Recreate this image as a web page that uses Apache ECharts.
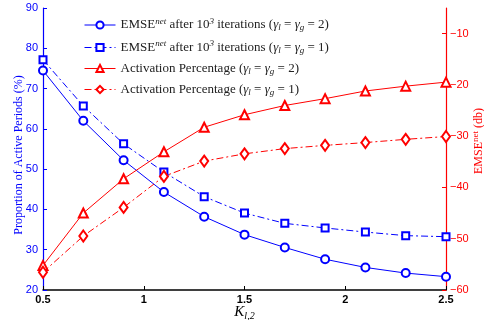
<!DOCTYPE html>
<html>
<head>
<meta charset="utf-8">
<script src="https://cdn.jsdelivr.net/npm/echarts@6/dist/echarts.min.js"></script>
<style>
  html, body { margin: 0; padding: 0; background: #fff; }
  #chart { width: 484px; height: 320px; }
</style>
</head>
<body>
<div id="chart"></div>
<script>
// K_{l,2} values
const kValues = [0.5, 0.7, 0.9, 1.1, 1.3, 1.5, 1.7, 1.9, 2.1, 2.3, 2.5];
// EMSE (db) - right axis
const emseG2 = [-17.2, -27.0, -34.7, -40.9, -45.7, -49.2, -51.7, -54.0, -55.6, -56.7, -57.4];
const emseG1 = [-15.1, -24.1, -31.5, -37.0, -41.8, -45.0, -47.0, -47.9, -48.7, -49.4, -49.6];
// activation percentage (%) - left axis
const actG2 = [26.1, 39.1, 47.6, 54.3, 60.4, 63.5, 65.8, 67.5, 69.4, 70.6, 71.6];
const actG1 = [24.4, 33.4, 40.5, 48.2, 52.0, 53.8, 55.1, 55.9, 56.6, 57.4, 58.1];
const rightTicks = [-60, -50, -40, -30, -20, -10];

const BLUE = '#0000ff', RED = '#ff0000';
const serif = '"Liberation Serif", "DejaVu Serif", serif';
const sans = '"Liberation Sans", Arial, sans-serif';
const dashDot = [7, 3, 2, 3];

const pairs = (ys) => kValues.map((k, i) => [k, ys[i]]);

const names = {
  e2: 'EMSE{sup|net} after 10{sup|3} iterations ({g|γ}{sub|l} = {g|γ}{sub|g} = 2)',
  e1: 'EMSE{sup|net} after 10{sup|3} iterations ({g|γ}{sub|l} = {g|γ}{sub|g} = 1)',
  a2: 'Activation Percentage ({g|γ}{sub|l} = {g|γ}{sub|g} = 2)',
  a1: 'Activation Percentage ({g|γ}{sub|l} = {g|γ}{sub|g} = 1)'
};

const chart = echarts.init(document.getElementById('chart'));
chart.setOption({
  animation: false,
  grid: { left: 43, right: 38, top: 8, bottom: 30, outerBoundsMode: 'none', containLabel: false },
  legend: {
    orient: 'vertical',
    left: 79,
    top: 12,
    itemGap: 7,
    itemWidth: 31,
    itemHeight: 9,
    lineStyle: { width: 1 },
    textStyle: {
      fontFamily: serif, fontSize: 13, color: '#222',
      rich: {
        sup: { fontFamily: serif, fontSize: 9, fontStyle: 'italic', verticalAlign: 'top', padding: [0, 0, 7, 0] },
        sub: { fontFamily: serif, fontSize: 9, fontStyle: 'italic', padding: [6, 0, 0, 0] },
        g: { fontFamily: serif, fontSize: 13, fontStyle: 'italic' }
      }
    },
    data: [names.e2, names.e1, names.a2, names.a1]
  },
  xAxis: {
    type: 'value', min: 0.5, max: 2.5, interval: 0.5,
    name: '{k|K}{s|l,2}',
    nameLocation: 'middle', nameGap: 14, nameMoveOverlap: false,
    nameTextStyle: {
      rich: {
        k: { fontFamily: serif, fontStyle: 'italic', fontSize: 15, color: '#000' },
        s: { fontFamily: serif, fontStyle: 'italic', fontSize: 10, color: '#000', padding: [7, 0, 0, 0] }
      }
    },
    axisLine: { lineStyle: { color: '#000', width: 1.5 } },
    axisTick: { inside: true, length: 4, lineStyle: { color: '#000' } },
    axisLabel: { color: '#000', fontFamily: sans, fontWeight: 'bold', fontSize: 11, margin: 4 },
    splitLine: { show: false }
  },
  yAxis: [{
    type: 'value', min: 20, max: 90, interval: 10, position: 'left',
    name: 'Proportion of Active Periods (%)',
    nameLocation: 'middle', nameGap: 18, nameRotate: 90, nameMoveOverlap: false,
    nameTextStyle: { color: BLUE, fontFamily: serif, fontSize: 12, padding: [0, 12, 0, 0] },
    axisLine: { show: true, lineStyle: { color: BLUE, width: 1.2 } },
    axisTick: { show: true, inside: true, length: 4, lineStyle: { color: BLUE } },
    axisLabel: { color: BLUE, fontFamily: sans, fontSize: 11, margin: 5 },
    splitLine: { show: false }
  }, {
    type: 'value', min: -60, max: -5, position: 'right',
    name: 'EMSE{s|net} (db)',
    nameLocation: 'middle', nameGap: 25, nameRotate: 90, nameMoveOverlap: false,
    nameTextStyle: {
      color: RED, fontFamily: serif, fontSize: 12, padding: [0, 0, 0, 16],
      rich: { s: { color: RED, fontFamily: serif, fontSize: 9, padding: [0, 0, 7, 0] } }
    },
    axisLine: { show: true, lineStyle: { color: RED, width: 1.2 } },
    axisTick: { show: true, inside: true, length: 4, customValues: rightTicks, lineStyle: { color: RED } },
    axisLabel: {
      color: RED, fontFamily: sans, fontSize: 11, margin: 4, customValues: rightTicks,
      formatter: (v) => '\u2212' + Math.abs(v)
    },
    splitLine: { show: false }
  }],
  series: [{
    name: names.e2, type: 'line', yAxisIndex: 1, data: pairs(emseG2),
    symbol: 'emptyCircle', symbolSize: 8,
    lineStyle: { color: BLUE, width: 1 }, itemStyle: { color: BLUE, borderWidth: 1 }
  }, {
    name: names.e1, type: 'line', yAxisIndex: 1, data: pairs(emseG1),
    symbol: 'emptyRect', symbolSize: 7,
    lineStyle: { color: BLUE, width: 1, type: dashDot }, itemStyle: { color: BLUE, borderWidth: 1 }
  }, {
    name: names.a2, type: 'line', yAxisIndex: 0, data: pairs(actG2),
    symbol: 'emptyTriangle', symbolSize: 9,
    lineStyle: { color: RED, width: 1 }, itemStyle: { color: RED, borderWidth: 1 }
  }, {
    name: names.a1, type: 'line', yAxisIndex: 0, data: pairs(actG1),
    symbol: 'emptyDiamond', symbolSize: [8, 11],
    lineStyle: { color: RED, width: 1, type: dashDot }, itemStyle: { color: RED, borderWidth: 1 }
  }]
});
</script>
</body>
</html>
